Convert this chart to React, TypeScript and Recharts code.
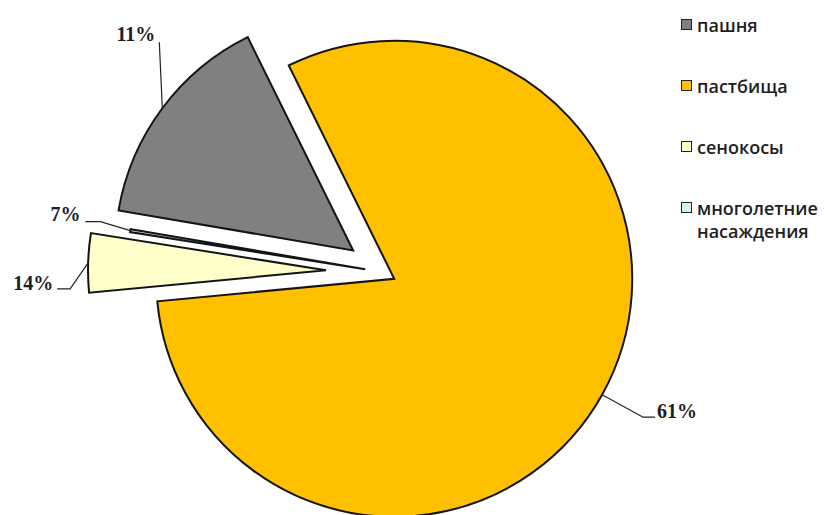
import React from 'react';
import { PieChart, Pie, Cell, Legend } from 'recharts';

// ---- data ----
const CATEGORIES = ['пашня', 'пастбища', 'сенокосы', 'многолетние насаждения'];
const VALUES = [15.0, 80.8, 4.0, 0.2];
const LABELS = ['11%', '61%', '14%', '7%'];
const COLORS = ['#808080', '#FFC000', '#FFFFCC', '#D6F0F0'];

const DATA = CATEGORIES.map((name, i) => ({ name, value: VALUES[i] }));

// ---- layout / style ----
const W = 824;
const H = 515;
const CX = 382;
const CY = 272;
const R = 238;
const START = 170.3;
const EXPLODE = [36, 14, 56, 17];
const RAD = Math.PI / 180;

type Leader = { ex: number; ey: number; tail: number; tx: number; ty: number; anchor: 'start' | 'end' };
const LEADERS: Leader[] = [
  { ex: -3, ey: -66, tail: 0, tx: -4, ty: -1, anchor: 'end' },
  { ex: 41, ey: 22.5, tail: 12, tx: 2, ty: 1, anchor: 'start' },
  { ex: -18, ey: 26, tail: -13, tx: -4, ty: 1, anchor: 'end' },
  { ex: -30, ey: -9, tail: -15, tx: -5, ty: -1, anchor: 'end' },
];

const TOTAL = VALUES.reduce((a, b) => a + b, 0);
const MIDS = VALUES.map((v, i) => {
  const before = VALUES.slice(0, i).reduce((a, b) => a + b, 0);
  return START - ((before + v / 2) / TOTAL) * 360;
});
const CENTERS = MIDS.map((m, i) => ({
  x: CX + EXPLODE[i] * Math.cos(m * RAD),
  y: CY - EXPLODE[i] * Math.sin(m * RAD),
}));

const makeLabel = (target: number) => (props: any) => {
  if (props.index !== target) return null;
  const { cx, cy, midAngle, outerRadius } = props;
  const px = cx + outerRadius * Math.cos(-midAngle * RAD);
  const py = cy + outerRadius * Math.sin(-midAngle * RAD);
  const L = LEADERS[target];
  const ex = px + L.ex;
  const ey = py + L.ey;
  const tx = ex + L.tail;
  return (
    <g>
      <polyline
        points={`${px},${py} ${ex},${ey} ${tx},${ey}`}
        fill="none"
        stroke="#222"
        strokeWidth={1.2}
      />
      <text
        x={tx + L.tx}
        y={ey + L.ty}
        textAnchor={L.anchor}
        fontFamily="'Liberation Serif', 'Times New Roman', serif"
        fontWeight="bold"
        fontSize={20}
        fill="#1e1e1e"
      >
        {LABELS[target]}
      </text>
    </g>
  );
};

const renderLegend = () => (
  <div
    style={{
      fontFamily: "'Open Sans', sans-serif",
      fontWeight: 600,
      fontSize: 18,
      color: '#1e1e1e',
      lineHeight: '23px',
    }}
  >
    {CATEGORIES.map((c, i) => (
      <div key={c} style={{ display: 'flex', alignItems: 'flex-start', marginBottom: 38 }}>
        <span
          style={{
            display: 'inline-block',
            width: 9,
            height: 9,
            border: '1.5px solid #222',
            background: COLORS[i],
            marginTop: 5.5,
            marginRight: 5,
            flexShrink: 0,
          }}
        />
        <span style={{ flex: 1 }}>{c}</span>
      </div>
    ))}
  </div>
);

export default function App() {
  return (
    <div style={{ position: 'absolute', left: 0, top: 0, width: W, height: H, background: '#fff' }}>
      <PieChart width={W} height={H} margin={{ top: 0, right: 0, bottom: 0, left: 0 }}>
        {CATEGORIES.map((_, target) => (
          <Pie
            key={target}
            data={DATA}
            dataKey="value"
            nameKey="name"
            cx={CENTERS[target].x}
            cy={CENTERS[target].y}
            outerRadius={R}
            innerRadius={0}
            startAngle={START}
            endAngle={START - 360}
            paddingAngle={0}
            isAnimationActive={false}
            labelLine={false}
            label={makeLabel(target)}
          >
            {DATA.map((d, i) => (
              <Cell
                key={d.name}
                fill={i === target ? COLORS[i] : 'none'}
                stroke={i === target ? '#141414' : 'none'}
                strokeWidth={i === target ? 2 : 0}
              />
            ))}
          </Pie>
        ))}
        <Legend
          layout="vertical"
          align="right"
          verticalAlign="top"
          content={renderLegend}
          wrapperStyle={{ position: 'absolute', left: 681, top: 13.5, width: 143 }}
        />
      </PieChart>
    </div>
  );
}
